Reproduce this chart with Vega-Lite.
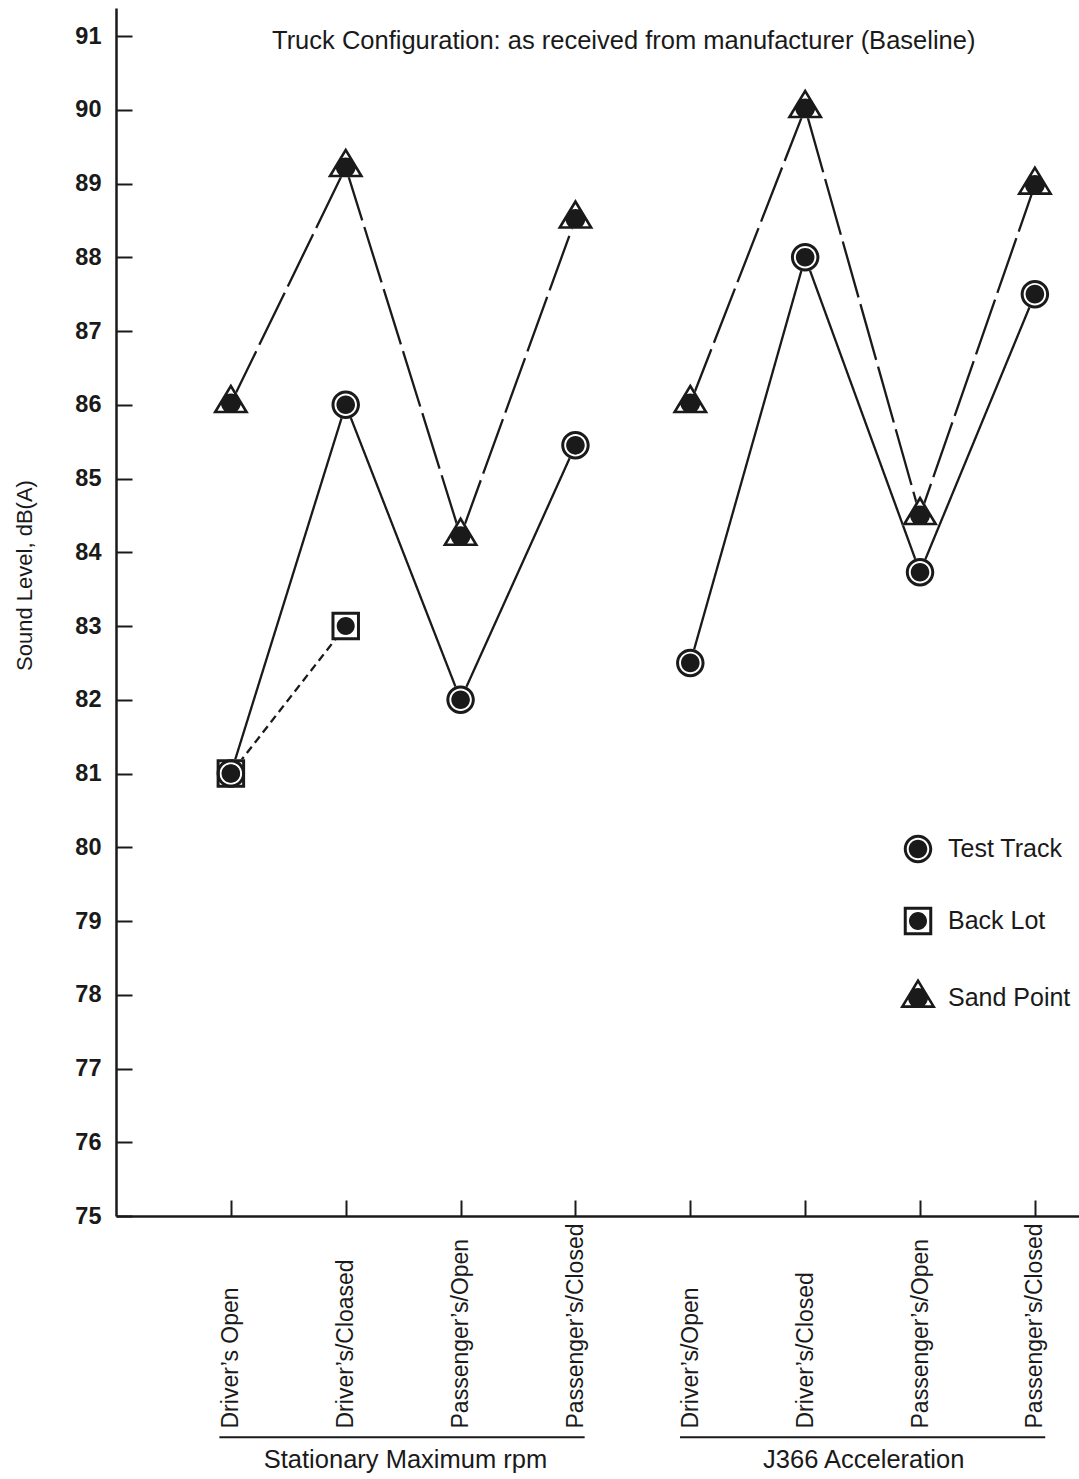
{
  "$schema": "https://vega.github.io/schema/vega-lite/v6.json",
  "autosize": "none",
  "width": 963,
  "height": 1208,
  "padding": {"left": 116, "top": 8, "right": 0, "bottom": 263},
  "background": "white",
  "title": {
    "text": "Truck Configuration: as received from manufacturer (Baseline)",
    "anchor": "start",
    "frame": "group",
    "dx": 156,
    "offset": -66,
    "baseline": "alphabetic",
    "font": "Liberation Sans",
    "fontSize": 25.5,
    "fontWeight": "normal",
    "color": "#1a1a1a"
  },
  "config": {
    "view": {"stroke": null},
    "font": "Liberation Sans",
    "axis": {"grid": false}
  },
  "datasets": {
    "points": [
      {"series": "Test Track", "group": "Stationary Maximum rpm", "pos": 1, "value": 81.0},
      {"series": "Test Track", "group": "Stationary Maximum rpm", "pos": 2, "value": 86.0},
      {"series": "Test Track", "group": "Stationary Maximum rpm", "pos": 3, "value": 82.0},
      {"series": "Test Track", "group": "Stationary Maximum rpm", "pos": 4, "value": 85.45},
      {"series": "Test Track", "group": "J366 Acceleration", "pos": 5, "value": 82.5},
      {"series": "Test Track", "group": "J366 Acceleration", "pos": 6, "value": 88.0},
      {"series": "Test Track", "group": "J366 Acceleration", "pos": 7, "value": 83.73},
      {"series": "Test Track", "group": "J366 Acceleration", "pos": 8, "value": 87.5},
      {"series": "Back Lot", "group": "Stationary Maximum rpm", "pos": 1, "value": 81.0},
      {"series": "Back Lot", "group": "Stationary Maximum rpm", "pos": 2, "value": 83.0},
      {"series": "Sand Point", "group": "Stationary Maximum rpm", "pos": 1, "value": 86.02},
      {"series": "Sand Point", "group": "Stationary Maximum rpm", "pos": 2, "value": 89.22},
      {"series": "Sand Point", "group": "Stationary Maximum rpm", "pos": 3, "value": 84.22},
      {"series": "Sand Point", "group": "Stationary Maximum rpm", "pos": 4, "value": 88.52},
      {"series": "Sand Point", "group": "J366 Acceleration", "pos": 5, "value": 86.02},
      {"series": "Sand Point", "group": "J366 Acceleration", "pos": 6, "value": 90.02},
      {"series": "Sand Point", "group": "J366 Acceleration", "pos": 7, "value": 84.5},
      {"series": "Sand Point", "group": "J366 Acceleration", "pos": 8, "value": 88.98}
    ],
    "groups": [
      {"group": "Stationary Maximum rpm", "start": 0.9, "end": 4.08, "mid": 2.52},
      {"group": "J366 Acceleration", "start": 4.91, "end": 8.09, "mid": 6.51}
    ]
  },
  "layer": [
    {
      "data": {"name": "points"},
      "mark": {"type": "line", "color": "#1a1a1a", "strokeWidth": 2.3},
      "encoding": {
        "x": {
          "field": "pos", "type": "quantitative",
          "scale": {"domain": [0, 8.384], "nice": false, "zero": false},
          "axis": {
            "values": [1, 2, 3, 4, 5, 6, 7, 8],
            "title": null,
            "labelExpr": "['', 'Driver’s Open', 'Driver’s/Cloased', 'Passenger’s/Open', 'Passenger’s/Closed', 'Driver’s/Open', 'Driver’s/Closed', 'Passenger’s/Open', 'Passenger’s/Closed'][datum.value]",
            "labelAngle": -90,
            "labelAlign": "left",
            "labelBaseline": "middle",
            "labelPadding": 228,
            "labelFontSize": 23,
            "labelFont": "Liberation Sans",
            "labelColor": "#1a1a1a",
            "labelOverlap": false,
            "labelFlush": false,
            "labelLimit": 0,
            "tickSize": -16,
            "tickWidth": 2,
            "tickColor": "#1a1a1a",
            "domainColor": "#1a1a1a",
            "domainWidth": 2.5
          }
        },
        "y": {
          "field": "value", "type": "quantitative",
          "scale": {"domain": [75, 91.38], "nice": false, "zero": false},
          "axis": {
            "values": [75, 76, 77, 78, 79, 80, 81, 82, 83, 84, 85, 86, 87, 88, 89, 90, 91],
            "format": "d",
            "title": "Sound Level, dB(A)",
            "titleFont": "Liberation Sans",
            "titleFontSize": 22,
            "titleFontWeight": "normal",
            "titleColor": "#1a1a1a",
            "titleX": -92,
            "titleY": 567,
            "titleAngle": -90,
            "titleAlign": "center",
            "titleBaseline": "middle",
            "labelFontSize": 23.5,
            "labelFontWeight": "bold",
            "labelFont": "Liberation Sans",
            "labelColor": "#1a1a1a",
            "labelPadding": 31,
            "labelOverlap": false,
            "labelFlush": false,
            "tickSize": -16,
            "tickWidth": 2,
            "tickColor": "#1a1a1a",
            "domainColor": "#1a1a1a",
            "domainWidth": 2.5
          }
        },
        "detail": {"field": "group"},
        "strokeDash": {
          "field": "series", "type": "nominal",
          "scale": {"domain": ["Test Track", "Back Lot", "Sand Point"], "range": [[1, 0], [8, 5], [58, 7]]},
          "legend": null
        },
        "order": {"field": "pos"}
      }
    },
    {
      "data": {"name": "points"},
      "mark": {"type": "point", "filled": true, "color": "white", "opacity": 1, "strokeWidth": 0, "size": 900},
      "encoding": {
        "x": {"field": "pos", "type": "quantitative"},
        "y": {"field": "value", "type": "quantitative"},
        "shape": {
          "field": "series", "type": "nominal",
          "scale": {
            "domain": ["Test Track", "Back Lot", "Sand Point"],
            "range": [
              "M0.95,0A0.95,0.95,0,1,1,-0.95,0A0.95,0.95,0,1,1,0.95,0Z",
              "M-0.95,-0.95H0.95V0.95H-0.95Z",
              "M0,-1.32L1.2,0.66L-1.2,0.66Z"
            ]
          },
          "legend": null
        }
      }
    },
    {
      "data": {"name": "points"},
      "mark": {"type": "point", "filled": true, "color": "#1a1a1a", "opacity": 1, "strokeWidth": 0, "size": 900},
      "encoding": {
        "x": {"field": "pos", "type": "quantitative"},
        "y": {"field": "value", "type": "quantitative"},
        "shape": {
          "field": "series", "type": "nominal",
          "scale": {
            "domain": ["Test Track", "Back Lot", "Sand Point"],
            "range": [
              "M0.95,0A0.95,0.95,0,1,1,-0.95,0A0.95,0.95,0,1,1,0.95,0ZM0.75,0A0.75,0.75,0,1,0,-0.75,0A0.75,0.75,0,1,0,0.75,0ZM0.62,0A0.62,0.62,0,1,1,-0.62,0A0.62,0.62,0,1,1,0.62,0Z",
              "M-0.95,-0.95H0.95V0.95H-0.95ZM-0.75,-0.75V0.75H0.75V-0.75ZM0.6,0A0.6,0.6,0,1,1,-0.6,0A0.6,0.6,0,1,1,0.6,0Z",
              "M0,-1.32L1.2,0.66L-1.2,0.66ZM0,-0.98L-0.89,0.49L0.89,0.49ZM0.66,0A0.66,0.66,0,1,1,-0.66,0A0.66,0.66,0,1,1,0.66,0Z"
            ]
          },
          "legend": {
            "title": null,
            "orient": "none",
            "legendX": 787,
            "legendY": 826,
            "padding": 0,
            "symbolSize": 900,
            "symbolFillColor": "#1a1a1a",
            "symbolStrokeWidth": 0,
            "symbolOpacity": 1,
            "labelFont": "Liberation Sans",
            "labelFontSize": 25,
            "labelColor": "#1a1a1a",
            "labelOffset": 15,
            "rowPadding": 42
          }
        }
      }
    },
    {
      "data": {"name": "groups"},
      "mark": {"type": "rule", "color": "#1a1a1a", "strokeWidth": 2.2},
      "encoding": {
        "x": {"field": "start", "type": "quantitative"},
        "x2": {"field": "end"},
        "y": {"datum": 72}
      }
    },
    {
      "data": {"name": "groups"},
      "mark": {"type": "text", "color": "#1a1a1a", "fontSize": 25.5, "font": "Liberation Sans", "align": "center", "baseline": "alphabetic"},
      "encoding": {
        "x": {"field": "mid", "type": "quantitative"},
        "y": {"datum": 71.58},
        "text": {"field": "group"}
      }
    }
  ],
  "resolve": {"scale": {"shape": "independent"}}
}
